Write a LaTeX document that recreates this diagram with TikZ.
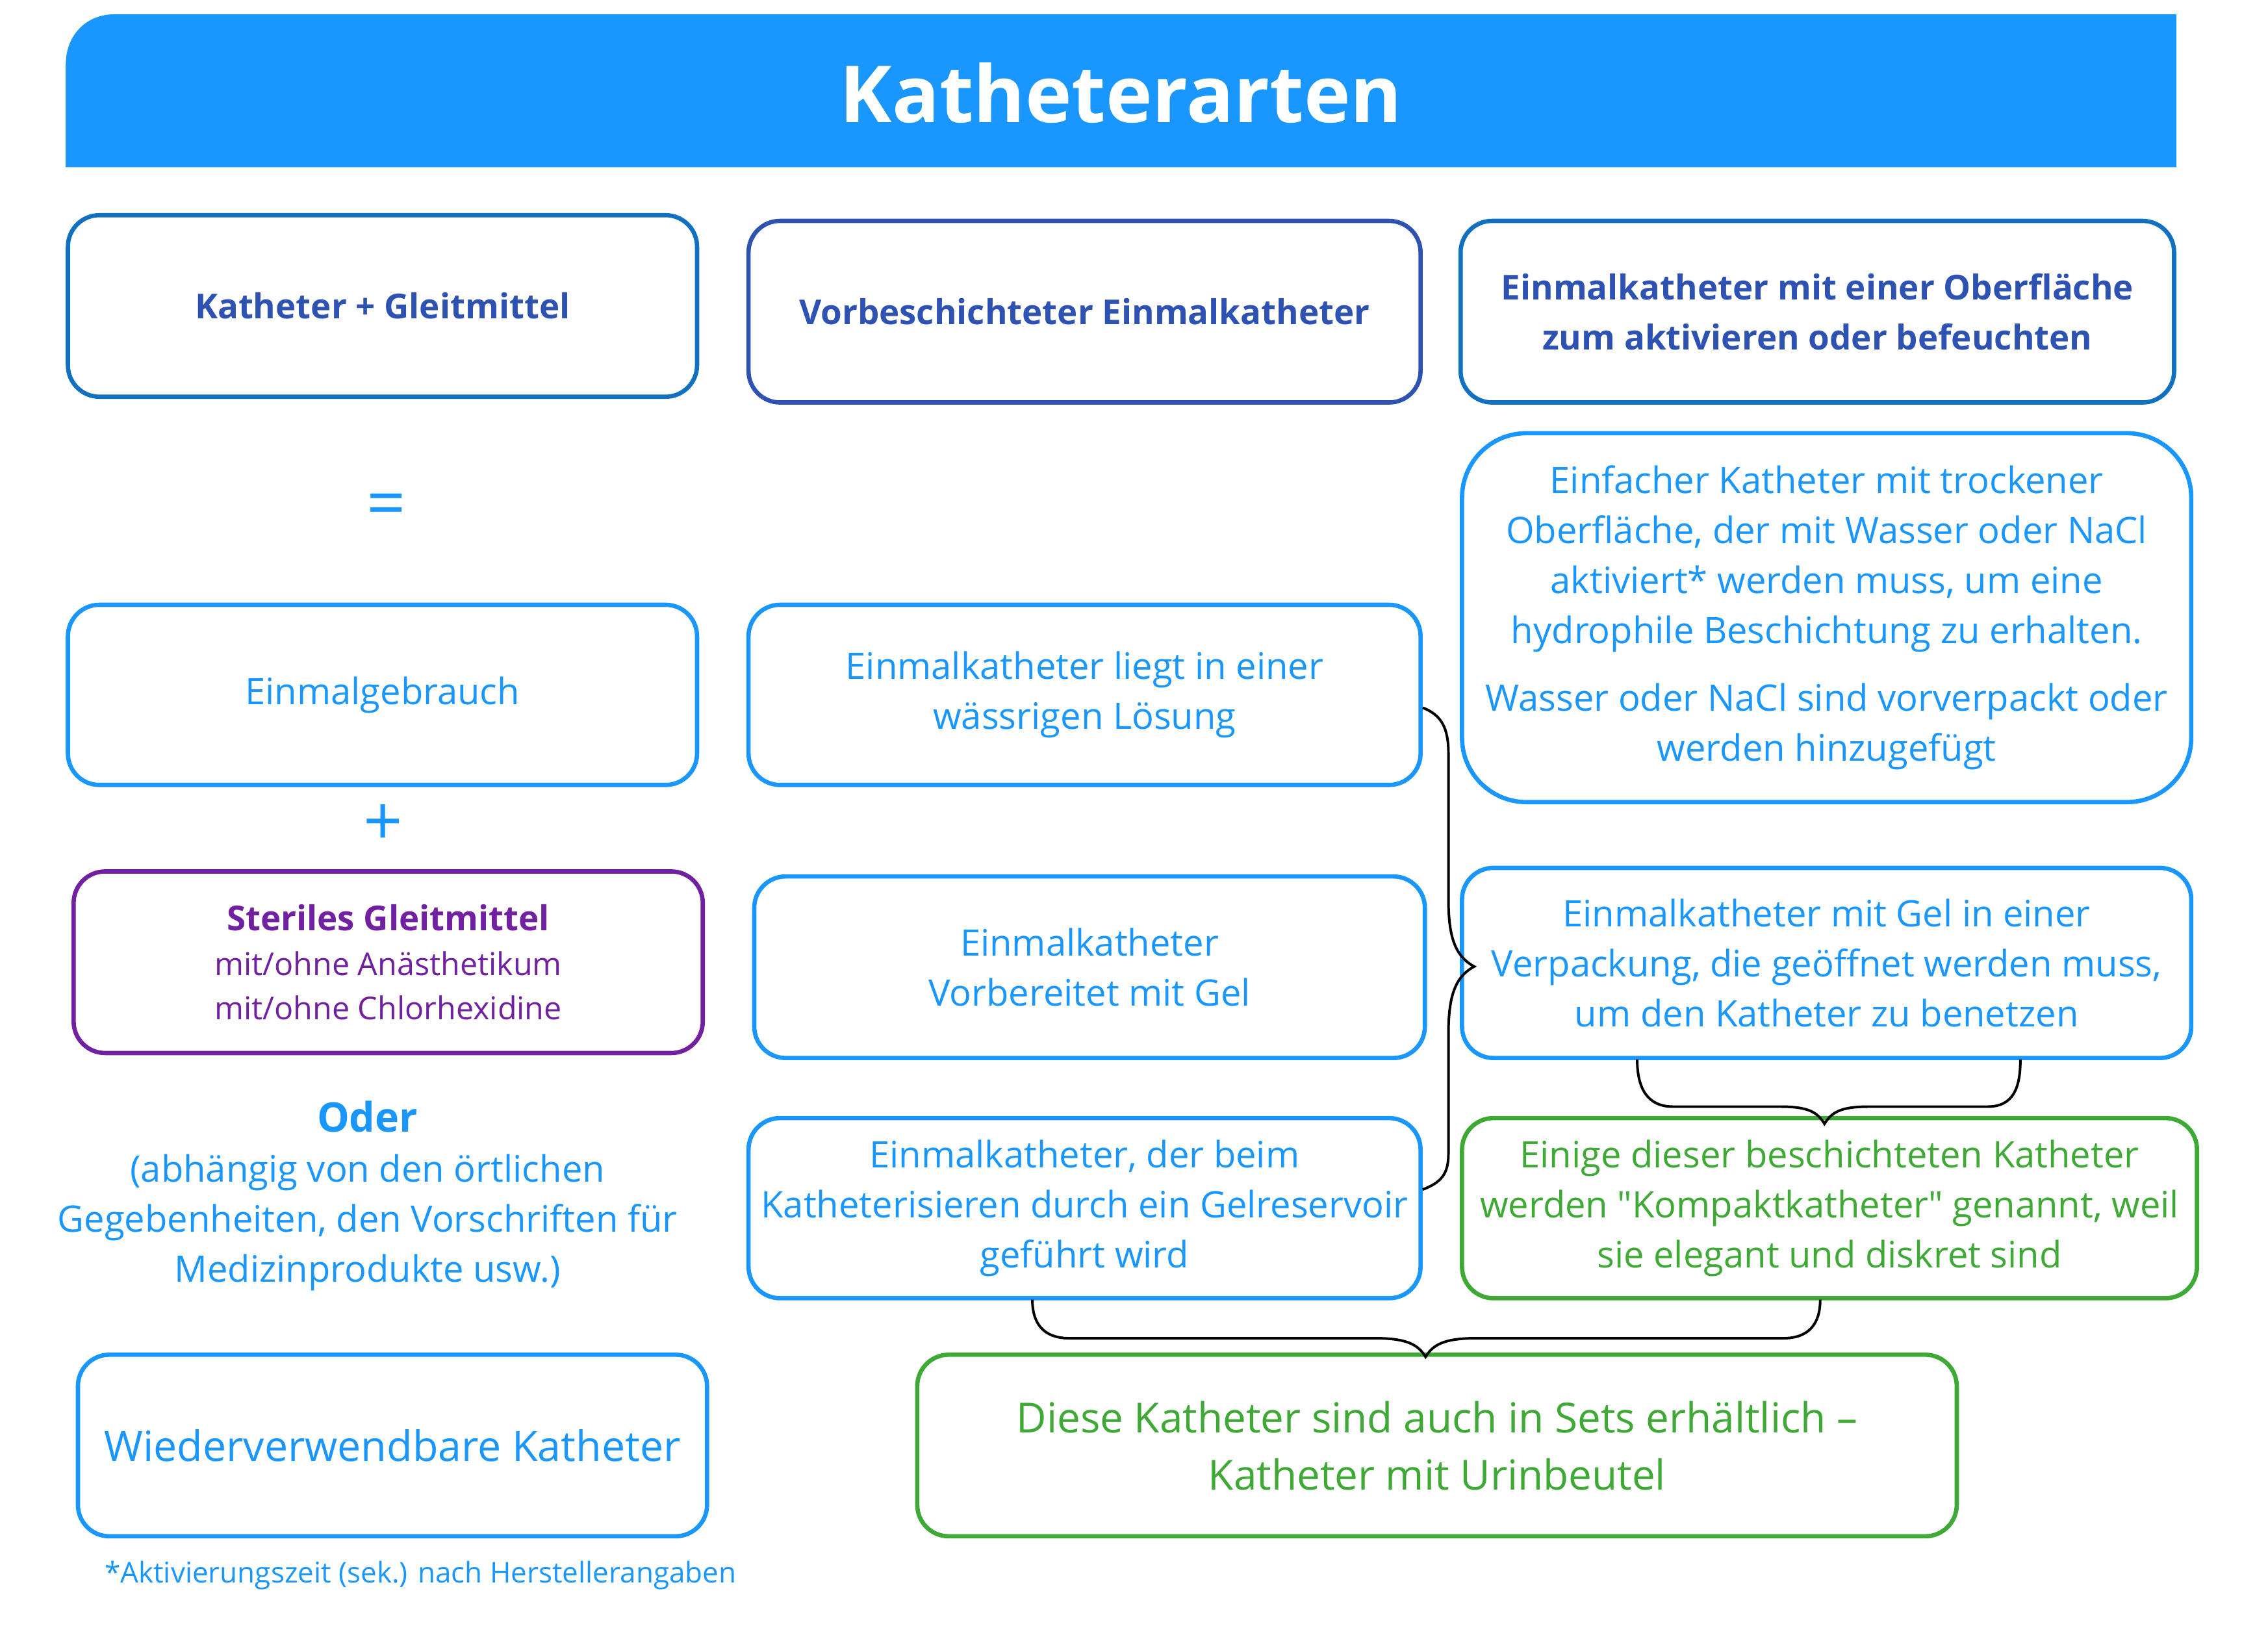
\documentclass[tikz,border=0pt]{standalone}
\usepackage{fontspec}
\setmainfont{Open Sans}
\usepackage{tikz}
\usetikzlibrary{positioning}

\definecolor{barblue}{RGB}{26,150,255}
\definecolor{txtblue}{RGB}{26,150,255}
\definecolor{hdblue}{RGB}{46,82,178}
\definecolor{hdline}{RGB}{17,112,192}
\definecolor{lila}{RGB}{112,32,160}
\definecolor{gruen}{RGB}{62,169,53}

\tikzset{
	kbox/.style={draw=txtblue, line width=3pt, rounded corners=22pt, align=center,
		text=txtblue, inner sep=0pt, font=\fontsize{25.5}{35}\selectfont},
	headbox/.style={kbox, draw=hdline, text=hdblue, font=\bfseries\fontsize{24}{35}\selectfont},
	gbox/.style={kbox, draw=gruen, text=gruen},
	brace/.style={black, line width=1.8pt},
}

\begin{document}
\begin{tikzpicture}[x=1pt, y=-1pt]
	\useasboundingbox (0,0) rectangle (1568,1155);

	% Title bar
	\fill[barblue] (1522,117) -- (46,117) -- (46,45) .. controls (46,25) and (60,10) .. (80,10) -- (1522,10) -- cycle;
	\node[text=white, font=\bfseries\fontsize{55}{60}\selectfont] (title) at (784,65) {Katheterarten};

	% Headers
	\node[headbox, minimum width=440pt, minimum height=127pt] (kg) at (267.5,214) {Katheter + Gleitmittel};
	\node[headbox, draw=hdblue, minimum width=470pt, minimum height=127pt] (vb) at (758.5,218) {Vorbeschichteter Einmalkatheter};
	\node[headbox, minimum width=499pt, minimum height=127pt] (ob) at (1271,218) {Einmalkatheter mit einer Oberfläche\\zum aktivieren oder befeuchten};

	% Left column
	\node[text=txtblue, font=\fontsize{48}{48}\selectfont] (eq) at (270,357) {=};
	\node[kbox, minimum width=440pt, minimum height=126pt] (einmal) at (267.5,486) {Einmalgebrauch};
	\node[text=txtblue, font=\fontsize{48}{48}\selectfont] (plus) at (268,577) {+};
	\node[kbox, draw=lila, text=lila, minimum width=440pt, minimum height=127pt, font=\fontsize{22}{31}\selectfont] (steril) at (271.5,673)
		{{\bfseries\fontsize{24}{31}\selectfont Steriles Gleitmittel}\\mit/ohne Anästhetikum\\mit/ohne Chlorhexidine};
	\node[text=txtblue, font=\bfseries\fontsize{28.5}{35}\selectfont] (oder) at (257,781) {Oder};
	\node[text=txtblue, align=center, font=\fontsize{25.5}{35}\selectfont] (oertl) at (257,855)
		{(abhängig von den örtlichen\\Gegebenheiten, den Vorschriften für\\Medizinprodukte usw.)};
	\node[kbox, minimum width=440pt, minimum height=127pt, font=\fontsize{29.3}{35}\selectfont] (wieder) at (274.5,1011) {Wiederverwendbare Katheter};
	\node[text=txtblue, anchor=west, inner sep=0pt, font=\fontsize{20}{22}\selectfont] (fussnote) at (73,1102) {*Aktivierungszeit (sek.) nach Herstellerangaben};

	% Middle column
	\node[kbox, minimum width=470pt, minimum height=126pt] (loesung) at (758.5,486) {Einmalkatheter liegt in einer\\wässrigen Lösung};
	\node[kbox, minimum width=469pt, minimum height=127pt] (gel) at (762,676.5) {Einmalkatheter\\Vorbereitet mit Gel};
	\node[kbox, minimum width=470pt, minimum height=126pt] (reservoir) at (758.5,845) {Einmalkatheter, der beim\\Katheterisieren durch ein Gelreservoir\\geführt wird};

	% Right column
	\node[kbox, rounded corners=45pt, minimum width=510pt, minimum height=258pt] (trocken) at (1277.5,432)
		{Einfacher Katheter mit trockener\\Oberfläche, der mit Wasser oder NaCl\\aktiviert* werden muss, um eine\\hydrophile Beschichtung zu erhalten.\\[12pt]Wasser oder NaCl sind vorverpackt oder\\werden hinzugefügt};
	\node[kbox, minimum width=510pt, minimum height=133pt] (verpackung) at (1277.5,673.5) {Einmalkatheter mit Gel in einer\\Verpackung, die geöffnet werden muss,\\um den Katheter zu benetzen};
	\node[gbox, minimum width=514pt, minimum height=126pt] (kompakt) at (1279.5,845) {Einige dieser beschichteten Katheter\\werden \textquotedbl Kompaktkatheter\textquotedbl{} genannt, weil\\sie elegant und diskret sind};

	% Bottom
	\node[gbox, minimum width=727pt, minimum height=127pt, font=\fontsize{29}{40}\selectfont] (sets) at (1005,1011) {Diese Katheter sind auch in Sets erhältlich –\\Katheter mit Urinbeutel};

	% Braces
	\coordinate (ba1) at (995,495);
	\coordinate (ba2) at (1031,676);
	\coordinate (ba3) at (995,832);
	\draw[brace] (ba1) .. controls (1008,500) and (1013,509) .. (1013,527) -- (1013,629)
		.. controls (1013,656) and (1018,669) .. (ba2) .. controls (1018,683) and (1013,696) .. (1013,723)
		-- (1013,807) .. controls (1013,821) and (1008,827) .. (ba3);

	\coordinate (bb1) at (1145,741);
	\coordinate (bb2) at (1276,786);
	\coordinate (bb3) at (1413,741);
	\draw[brace] (bb1) .. controls (1145,761) and (1152,774) .. (1170,774) -- (1245,774)
		.. controls (1265,774) and (1271,778) .. (bb2) .. controls (1281,778) and (1287,774) .. (1307,774)
		-- (1390,774) .. controls (1408,774) and (1413,761) .. (bb3);

	\coordinate (bc1) at (722,909);
	\coordinate (bc2) at (997,949);
	\coordinate (bc3) at (1273,909);
	\draw[brace] (bc1) .. controls (722,926) and (730,936) .. (748,936) -- (962,936)
		.. controls (985,936) and (992,941) .. (bc2) .. controls (1002,941) and (1009,936) .. (1032,936)
		-- (1247,936) .. controls (1265,936) and (1273,926) .. (bc3);

\end{tikzpicture}
\end{document}
